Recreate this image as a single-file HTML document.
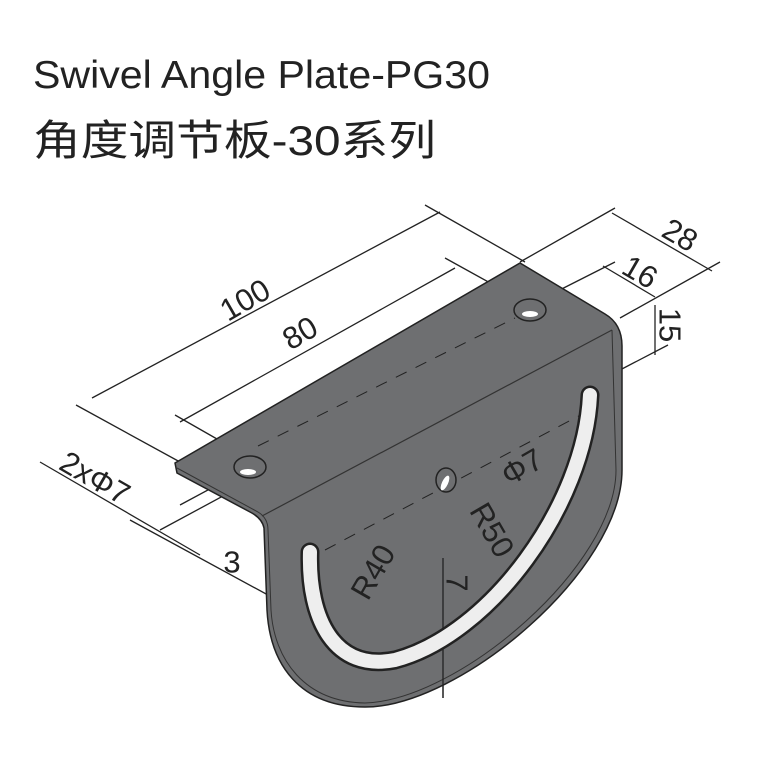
<!DOCTYPE html>
<html><head><style>
body{margin:0;background:#fff;width:768px;height:768px;overflow:hidden}
svg{display:block}
</style></head><body>
<svg width="768" height="768" viewBox="0 0 768 768" xmlns="http://www.w3.org/2000/svg">
<text x="33" y="88" font-family="Liberation Sans, sans-serif" font-size="39" fill="#222" textLength="457" lengthAdjust="spacingAndGlyphs">Swivel Angle Plate-PG30</text>
<text x="33" y="155" font-family="Liberation Sans, 'Noto Sans CJK SC', sans-serif" font-size="42" fill="#222" textLength="403" lengthAdjust="spacingAndGlyphs">角度调节板-30系列</text>

<g stroke="#222" stroke-width="1.3" fill="none">
<line x1="76" y1="405" x2="180" y2="462"/>
<line x1="425" y1="205" x2="525" y2="262"/>
<line x1="175" y1="415" x2="245" y2="455"/>
<line x1="445" y1="258" x2="530" y2="305"/>
<line x1="520" y1="262" x2="615" y2="208"/>
<line x1="530" y1="305" x2="615" y2="262"/>
<line x1="620" y1="318" x2="720" y2="262"/>
<line x1="620" y1="370" x2="668" y2="345"/>
<line x1="40" y1="462" x2="200" y2="555"/>
<line x1="130" y1="520" x2="290" y2="607"/>
<line x1="180" y1="505" x2="260" y2="462"/>
<line x1="160" y1="530" x2="275" y2="468"/>
<line x1="92" y1="398" x2="440" y2="212"/>
<line x1="180" y1="422" x2="455" y2="268"/>
<line x1="612" y1="213" x2="712" y2="271"/>
<line x1="603" y1="266" x2="655" y2="297"/>
<line x1="655" y1="305" x2="655" y2="355"/>
<line x1="505" y1="495" x2="545" y2="475"/>
<line x1="460" y1="490" x2="505" y2="495"/>
<line x1="443" y1="480" x2="355" y2="650"/>
<line x1="443" y1="480" x2="520" y2="612"/>
<line x1="443" y1="558" x2="443" y2="698"/>
</g>

<path d="M175,463 L520,263 L605,314 Q622,324 622,346 L622,470 C622,570 460,707 365,707 C300,707 270,665 267,610 L264,528 Q262,518 250,512 L177,473 Z" fill="#6e6f71" stroke="#222" stroke-width="1.5"/>
<path d="M177,468 L258,512 Q268,518 268,530 L271,610 C274,660 305,702 365,703" fill="none" stroke="#333" stroke-width="1"/>
<path d="M262,516 L612,330" fill="none" stroke="#333" stroke-width="1.2"/>
<path d="M612,330 L616,470 C616,565 460,700 365,703" fill="none" stroke="#333" stroke-width="1"/>
<line x1="258" y1="446" x2="515" y2="318" stroke="#222" stroke-dasharray="12,10" stroke-width="1"/>
<line x1="325" y1="550" x2="590" y2="410" stroke="#222" stroke-dasharray="12,10" stroke-width="1"/>
<line x1="443" y1="558" x2="443" y2="698" stroke="#222" stroke-width="1.3"/>
<path d="M310,552 C308,620 335,672 395,660 C490,635 585,505 590,395" fill="none" stroke="#222" stroke-width="19" stroke-linecap="round"/>
<path d="M310,552 C308,620 335,672 395,660 C490,635 585,505 590,395" fill="none" stroke="#eee" stroke-width="14" stroke-linecap="round"/>
<ellipse cx="250" cy="467" rx="16" ry="11" fill="#6e6f71" stroke="#222" stroke-width="1.5"/>
<ellipse cx="248" cy="472" rx="8" ry="3" fill="#fff"/>
<ellipse cx="530" cy="310" rx="16" ry="11" fill="#6e6f71" stroke="#222" stroke-width="1.5"/>
<ellipse cx="530" cy="314" rx="8" ry="3" fill="#fff"/>
<ellipse cx="446" cy="480" rx="10" ry="12" fill="#6e6f71" stroke="#222" stroke-width="1.5"/>
<ellipse cx="445" cy="483" rx="3" ry="8" fill="#fff" transform="rotate(25 445 483)"/>

<g font-family="Liberation Sans, sans-serif" font-size="31" fill="#222" text-anchor="middle" dominant-baseline="central">
<text transform="translate(245,300) rotate(-30)">100</text>
<text transform="translate(300,333) rotate(-30)">80</text>
<text transform="translate(680,235) rotate(30)">28</text>
<text transform="translate(640,272) rotate(30)">16</text>
<text transform="translate(670,325) rotate(90)">15</text>
<text transform="translate(95,478) rotate(30)">2xΦ7</text>
<text transform="translate(232,562)">3</text>
<text transform="translate(522,467) rotate(-30)">Φ7</text>
<text transform="translate(492,530) rotate(60)">R50</text>
<text transform="translate(373,572) rotate(-60)">R40</text>
<text transform="translate(457,583) rotate(90)">7</text>
</g>
</svg>
</body></html>
